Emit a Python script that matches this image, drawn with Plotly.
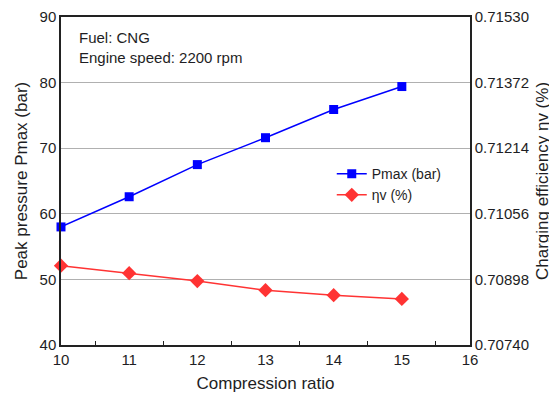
import plotly.graph_objects as go

compression_ratio = [10, 11, 12, 13, 14, 15]
pmax_bar = [58.0, 62.6, 67.5, 71.6, 75.9, 79.4]
eta_v = [0.70931, 0.70913, 0.70894, 0.70872, 0.70860, 0.70851]

left_ticks = [40, 50, 60, 70, 80, 90]
right_ticks = [0.70740, 0.70898, 0.71056, 0.71214, 0.71372, 0.71530]
right_labels = ["0.70740", "0.70898", "0.71056", "0.71214", "0.71372", "0.71530"]
x_ticks = [10, 11, 12, 13, 14, 15, 16]

FONT = "Liberation Sans, Arial, sans-serif"
TXT = "#1e1e24"

fig = go.Figure()
fig.add_trace(go.Scatter(
    x=compression_ratio, y=pmax_bar, name="Pmax (bar)", mode="lines+markers",
    line=dict(color="#0000ff", width=1.5),
    marker=dict(symbol="square", size=9, color="#0000ff"),
    yaxis="y", cliponaxis=False))
fig.add_trace(go.Scatter(
    x=compression_ratio, y=eta_v, name="ηv (%)", mode="lines+markers",
    line=dict(color="#ff3333", width=1.5),
    marker=dict(symbol="diamond", size=11, color="#ff3333"),
    yaxis="y2", cliponaxis=False))

# page body has an 8px margin; the figure is sized so that it ends at the window edge
fig.update_layout(
    width=549, height=386,
    margin=dict(l=53, r=87, t=9, b=49),
    paper_bgcolor="white", plot_bgcolor="white",
    font=dict(family=FONT, size=15, color=TXT),
    showlegend=True,
    legend=dict(x=0.662, y=0.57, xanchor="left", yanchor="top",
                bgcolor="rgba(0,0,0,0)", font=dict(size=14), tracegroupgap=0,
                itemwidth=30),
    xaxis=dict(range=[10, 16], tickvals=x_ticks, ticks="", automargin=False,
               showline=True, linecolor="#222222", linewidth=1.5, mirror=True,
               showgrid=False, zeroline=False,
               minor=dict(ticks="inside", tickvals=[10.5, 11.5, 12.5, 13.5, 14.5, 15.5],
                          ticklen=4, tickcolor="#222222", showgrid=False),
               title=dict(text="Compression ratio", font=dict(size=17), standoff=10),
               tickfont=dict(size=15)),
    yaxis=dict(range=[40, 90], tickvals=left_ticks, ticks="", automargin=False,
               showline=True, linecolor="#222222", linewidth=1.5,
               showgrid=True, gridcolor="#b0b0b0", gridwidth=1, zeroline=False,
               title=dict(text="Peak pressure Pmax (bar)", font=dict(size=17), standoff=8),
               tickfont=dict(size=15)),
    yaxis2=dict(range=[0.70740, 0.71530], tickvals=right_ticks, ticktext=right_labels,
                overlaying="y", side="right", ticks="", automargin=False,
                showline=True, linecolor="#222222", linewidth=1.5,
                showgrid=False, zeroline=False,
                title=dict(text="Charging efficiency ηv (%)", font=dict(size=17), standoff=8),
                tickfont=dict(size=15)),
)

fig.add_annotation(xref="paper", yref="paper", x=0.038, y=0.968, xanchor="left", yanchor="top",
                   text="Fuel: CNG<br>Engine speed: 2200 rpm", align="left", showarrow=False,
                   font=dict(size=15, color=TXT))

fig.write_html("out.html")
